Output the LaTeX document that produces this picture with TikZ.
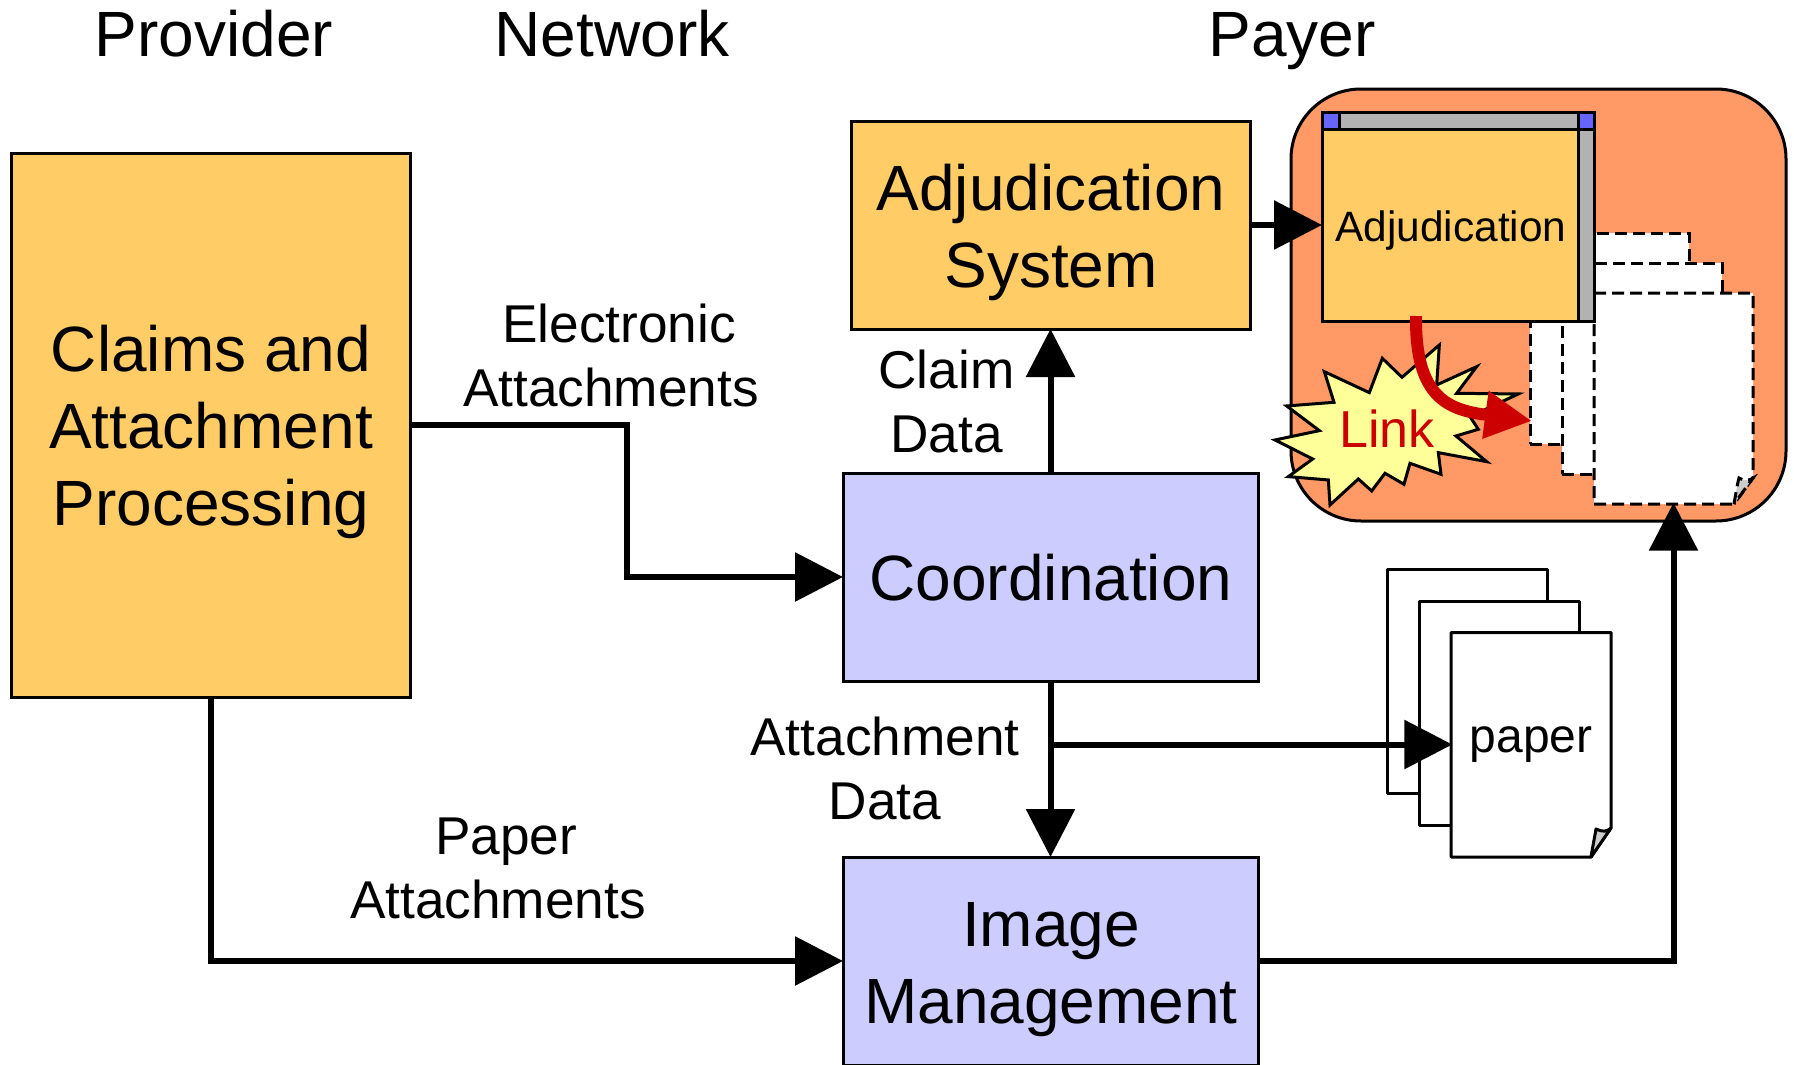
\documentclass[tikz,border=0pt]{standalone}
\usepackage{fontspec}
\setmainfont{Liberation Sans}
\usetikzlibrary{arrows.meta}
\definecolor{boxorange}{HTML}{FFCC66}
\definecolor{boxblue}{HTML}{CCCCFF}
\definecolor{payerbg}{HTML}{FF9966}
\definecolor{starfill}{HTML}{FFFF99}
\definecolor{bargray}{HTML}{B2B2B2}
\definecolor{cornerblue}{HTML}{6666FF}
\definecolor{foldgray}{HTML}{CCCCCC}
\definecolor{linkred}{HTML}{CC0000}
\tikzset{
  bigtext/.style={font=\fontsize{64}{77}\selectfont,align=center,inner sep=0pt},
  midtext/.style={font=\fontsize{53.2}{64}\selectfont,align=center,inner sep=0pt},
  mainbox/.style={draw=black,line width=3pt,inner sep=0pt},
  conn/.style={draw=black,line width=6pt,shorten >=-1.5pt,-{Triangle[length=48pt,width=48pt]}},
  sheet/.style={draw=black,line width=3pt,fill=white,line join=round},
  dashsheet/.style={draw=black,line width=3pt,fill=white,dash pattern=on 12pt off 6pt},
  chrome/.style={draw=black,line width=3pt},
}
\begin{document}
\begin{tikzpicture}[x=1pt,y=-1pt]
\useasboundingbox (0,0) rectangle (1794,1065);
% headings
\node[bigtext,anchor=base] (hprov) at (214,57) {Provider};
\node[bigtext,anchor=base] (hnet) at (612,57) {Network};
\node[bigtext,anchor=base] (hpay) at (1292,57) {Payer};
% main boxes
\node[mainbox,fill=boxorange,minimum width=399pt,minimum height=544pt] (claims) at (210.5,425) {};
\node[bigtext] (claimstext) at (211,432) {Claims and\\Attachment\\Processing};
\node[mainbox,fill=boxorange,minimum width=399pt,minimum height=208pt] (adj) at (1050.5,225) {};
\node[bigtext] (adjtext) at (1051,232) {Adjudication\\System};
\node[mainbox,fill=boxblue,minimum width=415pt,minimum height=208pt] (coord) at (1050.5,577) {};
\node[bigtext] (coordtext) at (1051,578) {Coordination};
\node[mainbox,fill=boxblue,minimum width=415pt,minimum height=208pt] (image) at (1050.5,961) {};
\node[bigtext] (imagetext) at (1051,970) {Image\\Management};
% payer panel
\node[draw=black,line width=3pt,fill=payerbg,rounded corners=70pt,minimum width=495pt,minimum height=432pt] (payer) at (1538.5,305) {};
% dashed pages
\node[dashsheet,minimum width=159pt,minimum height=211pt,inner sep=0pt] (page1) at (1609.5,338.5) {};
\node[dashsheet,minimum width=160pt,minimum height=211pt,inner sep=0pt] (page2) at (1642,368.5) {};
\node[minimum width=159pt,minimum height=211pt,inner sep=0pt] (page3) at (1673.5,398.5) {};
\draw[dashsheet] (1594,293) -- (1753,293) -- (1753,478) -- (1734,504) -- (1594,504) -- cycle;
\draw[dashsheet,fill=foldgray] (1734,504) .. controls (1736,492) and (1738,481) .. (1739,478) .. controls (1744,481) and (1749,481) .. (1753,478) -- cycle;
% embedded window
\draw[chrome,fill=bargray] (1322,112) rectangle (1594,129);
\draw[chrome,fill=bargray] (1578,129) rectangle (1594,321);
\node[mainbox,fill=boxorange,minimum width=256pt,minimum height=192pt] (win) at (1450,225) {};
\node[font=\fontsize{42.4}{50}\selectfont,inner sep=0pt] (wintext) at (1451,231) {Adjudication};
\draw[chrome,fill=cornerblue] (1322,112) rectangle (1339,129);
\draw[chrome,fill=cornerblue] (1578,112) rectangle (1594,129);
% link star
\begin{scope}[shift={(1270,80)},x=0.3333pt,y=-0.3333pt]
\draw[black,line width=3pt,fill=starfill,line join=miter]
 (508,795)--(500,915)--(620,860)--(560,940)--(745,942)--(600,1010)--(625,1048)--(558,1068)--(650,1145)--(505,1118)--(513,1183)--(420,1150)--(402,1213)--(345,1180)--(305,1233)--(265,1197)--(180,1275)--(175,1200)--(55,1190)--(128,1137)--(15,1080)--(148,1052)--(50,978)--(192,967)--(163,875)--(298,938)--(337,835)--(396,892)--cycle;
\end{scope}
\node[font=\fontsize{52}{60}\selectfont,text=linkred,inner sep=0pt] (linktext) at (1387,429) {Link};
\coordinate (linkstart) at (1416,316);
\coordinate (linkend) at (1532,421);
\draw[draw=linkred,line width=12pt,-{Triangle[length=47pt,width=45pt,fill=linkred]}]
 (linkstart) .. controls (1415,400) and (1450,410) .. (linkend);
% paper stack
\node[sheet,minimum width=160pt,minimum height=224pt,inner sep=0pt] (paper1) at (1467,681) {};
\node[sheet,minimum width=160pt,minimum height=224pt,inner sep=0pt] (paper2) at (1499,713) {};
\node[minimum width=160pt,minimum height=225pt,inner sep=0pt] (paper3) at (1531,744.5) {};
\draw[sheet] (1451,632.5) -- (1611,632.5) -- (1611,828) -- (1591,857) -- (1451,857) -- cycle;
\draw[sheet,fill=foldgray] (1591,857) .. controls (1593,845) and (1595,835) .. (1596,829) .. controls (1602,832) and (1607,832) .. (1611,828) -- cycle;
\node[font=\fontsize{48}{56}\selectfont,inner sep=0pt] (papertext) at (1531,745) {paper};
% connectors
\coordinate (eltop) at (627,425);
\coordinate (elbot) at (627,577);
\draw[conn] (claims.east) -- (eltop) -- (elbot) -- (coord.west);
\draw[conn] (coord.north) -- (adj.south);
\draw[conn] (adj.east) -- (win.west);
\draw[conn] (coord.south) -- (image.north);
\coordinate (branch) at (coord.south |- paper3.west);
\draw[conn] (branch) -- (paper3.west);
\coordinate (pacorner) at (claims.south |- image.west);
\draw[conn] (claims.south) -- (pacorner) -- (image.west);
\coordinate (imcorner) at (page3.south |- image.east);
\draw[conn] (image.east) -- (imcorner) -- (page3.south);
% labels
\node[midtext] (lelec) at (611,355.5) {\hspace*{16pt}Electronic\\Attachments};
\node[midtext] (lclaim) at (946.5,401.5) {Claim\\Data};
\node[midtext] (lattach) at (885,768.5) {Attachment\\Data};
\node[midtext] (lpaper) at (498,868) {\hspace*{16pt}Paper\\Attachments};
\end{tikzpicture}
\end{document}
